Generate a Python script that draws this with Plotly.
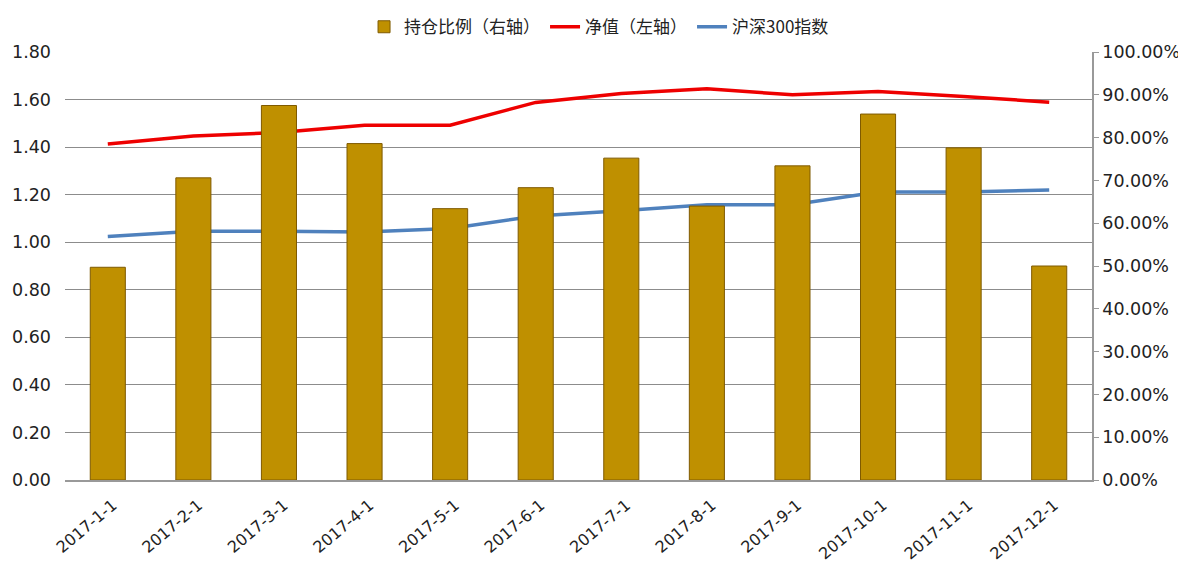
import plotly.graph_objects as go

dates = ["2017-1-1", "2017-2-1", "2017-3-1", "2017-4-1", "2017-5-1", "2017-6-1",
         "2017-7-1", "2017-8-1", "2017-9-1", "2017-10-1", "2017-11-1", "2017-12-1"]
position_ratio = [0.497, 0.706, 0.875, 0.786, 0.634, 0.683, 0.752, 0.640, 0.734, 0.855, 0.776, 0.500]
nav = [1.413, 1.447, 1.461, 1.492, 1.492, 1.588, 1.625, 1.645, 1.620, 1.634, 1.613, 1.589]
hs300 = [1.024, 1.046, 1.046, 1.043, 1.058, 1.110, 1.132, 1.158, 1.158, 1.211, 1.211, 1.220]

fig = go.Figure()
fig.add_trace(go.Bar(
    x=dates, y=position_ratio, name="持仓比例（右轴）", yaxis="y2",
    marker=dict(color="#BF9000", line=dict(color="#7F5A00", width=1)),
))
fig.add_trace(go.Scatter(
    x=dates, y=nav, name="净值（左轴）", mode="lines",
    line=dict(color="#EE0000", width=3.5),
))
fig.add_trace(go.Scatter(
    x=dates, y=hs300, name="沪深300指数", mode="lines",
    line=dict(color="#4F81BD", width=3.5),
))

tickfont = dict(family="DejaVu Sans, Verdana, sans-serif", size=17.5, color="#222222")
fig.update_layout(
    width=1178, height=557,
    margin=dict(l=57, r=94, t=44, b=85, autoexpand=False),
    paper_bgcolor="white", plot_bgcolor="white",
    bargap=0.59,
    showlegend=True,
    legend=dict(orientation="h", x=0.52, xanchor="center", y=1.10, yanchor="top",
                font=dict(family="Noto Sans CJK SC, sans-serif", size=17, color="#222222"),
                traceorder="normal", bgcolor="rgba(0,0,0,0)"),
    xaxis=dict(type="category", tickangle=-40,
               tickfont=dict(family="DejaVu Sans, Verdana, sans-serif", size=16, color="#222222"),
               showline=True, linecolor="#999999", linewidth=1.5, showgrid=False, ticks="",
               automargin=False, ticklabelstandoff=8, ticklabelshift=5),
    yaxis=dict(range=[0, 1.8], dtick=0.2, tickformat=".2f", tickfont=tickfont,
               showgrid=True, gridcolor="#8C8C8C", gridwidth=1, showline=False, zeroline=False,
               ticks="", ticklen=0, automargin=False, ticklabelstandoff=13),
    yaxis2=dict(range=[0, 1.0], dtick=0.1, tickformat=".2%", tickfont=tickfont,
                overlaying="y", side="right", showgrid=False, zeroline=False,
                showline=True, linecolor="#999999", linewidth=1.5,
                ticks="outside", ticklen=5, tickcolor="#999999", automargin=False),
    font=dict(family="Noto Sans CJK SC, sans-serif"),
)

fig.write_html("out.html")
